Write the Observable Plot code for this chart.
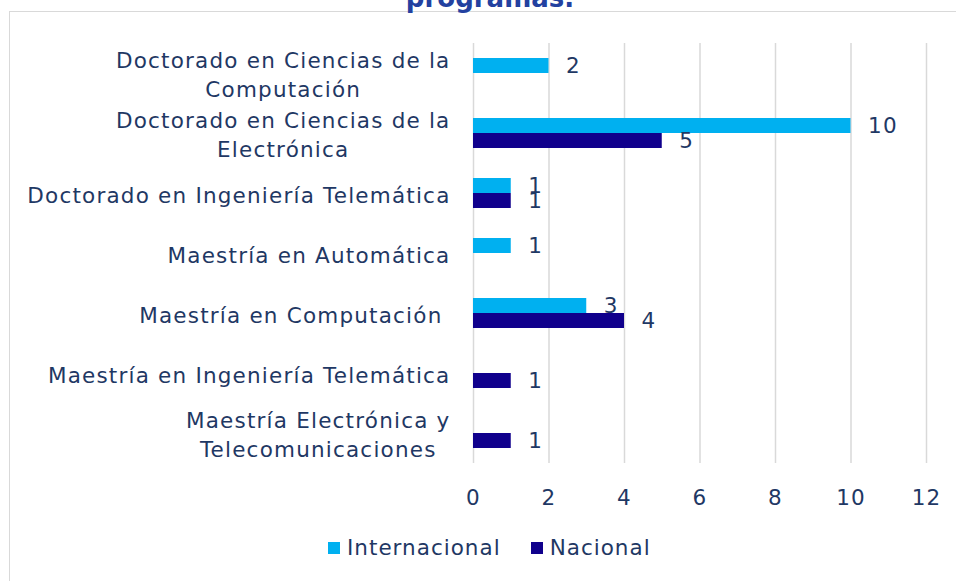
<!DOCTYPE html>
<html>
<head>
<meta charset="utf-8">
<script src="https://cdn.jsdelivr.net/npm/d3@7"></script>
<script src="https://cdn.jsdelivr.net/npm/@observablehq/plot@0.6"></script>
<style>
  html, body { margin: 0; padding: 0; background: #fff; }
  body { width: 956px; height: 581px; position: relative; overflow: hidden; font-family: "DejaVu Sans", sans-serif; color: #1F3864; }
  #frame { position: absolute; left: 9px; top: 11px; width: 1000px; height: 700px; border: 1.5px solid #D9D9D9; box-sizing: border-box; }
  #title { position: absolute; left: 0; width: 980px; top: -15px; text-align: center; font-weight: bold; font-size: 26px; line-height: 26px; color: #2341A0; }
  #chart { position: absolute; left: 0; top: 0; }
  #legend { position: absolute; left: 328px; top: 535px; display: flex; align-items: center; font-size: 21.5px; letter-spacing: 1px; }
  .sw { width: 12px; height: 12px; display: inline-block; margin-right: 7px; }
  .item { display: flex; align-items: center; margin-right: 30px; }
</style>
</head>
<body>
<div id="frame"></div>
<div id="title">programas.</div>
<div id="chart"></div>
<div id="legend"></div>
<script>
const categories = [
  "Doctorado en Ciencias de la\nComputación",
  "Doctorado en Ciencias de la\nElectrónica",
  "Doctorado en Ingeniería Telemática",
  "Maestría en Automática",
  "Maestría en Computación ",
  "Maestría en Ingeniería Telemática",
  "Maestría Electrónica y\nTelecomunicaciones"
];
const series = ["Internacional", "Nacional"];
const internacional = [2, 10, 1, 1, 3, null, null];
const nacional = [null, 5, 1, null, 4, 1, 1];
const xTicks = [0, 2, 4, 6, 8, 10, 12];
const colors = ["#00B0F0", "#10008C"];

const FONT = "DejaVu Sans";
const FS = 21.5;
const LS = 1.2; // letter spacing px
const textColor = "#1F3864";

const data = [];
categories.forEach((c, i) => {
  if (internacional[i] != null) data.push({cat: c, serie: series[0], value: internacional[i]});
  if (nacional[i] != null) data.push({cat: c, serie: series[1], value: nacional[i]});
});

const ctx = document.createElement("canvas").getContext("2d");
ctx.font = `${FS}px "${FONT}"`;
function blockWidth(s) {
  return Math.max(...s.split("\n").map(l => ctx.measureText(l).width + LS * l.length));
}

const labelMarks = categories.map(c => {
  const w = blockWidth(c);
  return Plot.text([c], {
    fy: d => d, text: d => d, frameAnchor: "left", textAnchor: "middle",
    dx: -(23 + w / 2), lineHeight: 1.33, fill: textColor, fontSize: FS
  });
});

const chart = Plot.plot({
  width: 956,
  height: 522,
  marginLeft: 473,
  marginRight: 30,
  marginTop: 41,
  marginBottom: 57,
  style: {fontFamily: FONT, fontSize: FS + "px", color: textColor, background: "transparent", letterSpacing: LS + "px"},
  x: {domain: [0, 12]},
  fy: {domain: categories, padding: 0, axis: null, label: null},
  y: {domain: series, paddingInner: 0, paddingOuter: 0.9, axis: null, label: null},
  color: {domain: series, range: colors},
  marks: [
    Plot.ruleX(xTicks, {x: d => d, stroke: "#D9D9D9", strokeWidth: 1.5}),
    Plot.barX(data, {x: "value", y: "serie", fy: "cat", fill: "serie"}),
    Plot.text(data, {x: "value", y: "serie", fy: "cat", text: d => String(d.value), dx: 17, textAnchor: "start", fill: textColor, fontSize: FS}),
    ...labelMarks,
    Plot.axisX({ticks: xTicks, tickSize: 0, tickPadding: 26, label: null, fontSize: FS, fill: textColor})
  ]
});
document.getElementById("chart").appendChild(chart);

const legend = document.getElementById("legend");
series.forEach((s, i) => {
  const item = document.createElement("div");
  item.className = "item";
  item.innerHTML = `<span class="sw" style="background:${colors[i]}"></span><span>${s}</span>`;
  legend.appendChild(item);
});
</script>
</body>
</html>
